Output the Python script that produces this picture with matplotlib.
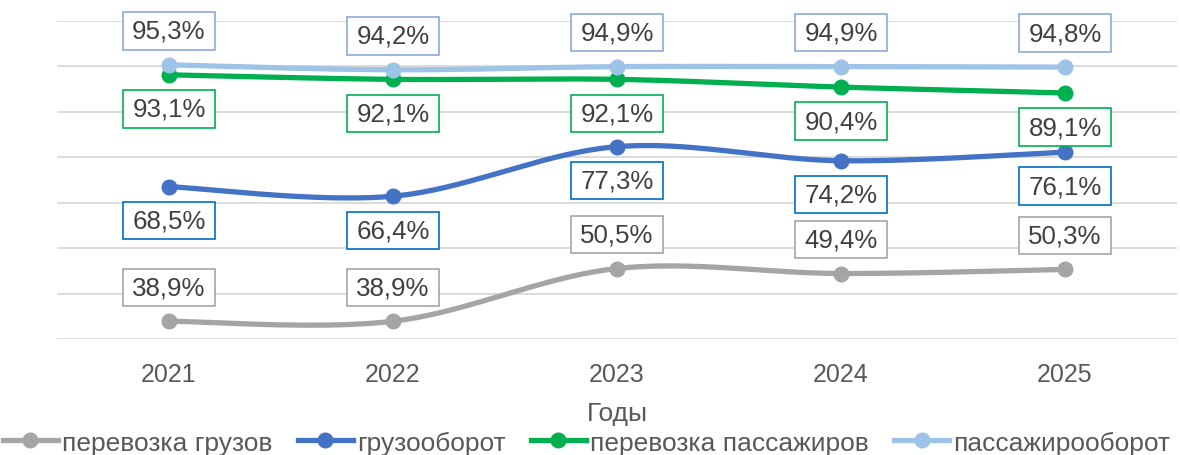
import numpy as np
import matplotlib.pyplot as plt
from matplotlib.path import Path

plt.rcParams['font.family'] = ['Liberation Sans', 'DejaVu Sans']

years = ['2021', '2022', '2023', '2024', '2025']
cargo = [38.9, 38.9, 50.5, 49.4, 50.3]            # перевозка грузов
cargo_turn = [68.5, 66.4, 77.3, 74.2, 76.1]       # грузооборот
passengers = [93.1, 92.1, 92.1, 90.4, 89.1]       # перевозка пассажиров
pass_turn = [95.3, 94.2, 94.9, 94.9, 94.8]        # пассажирооборот


def smooth(xs, ys, n=40):
    # excel-like smoothed line: bezier through the points
    p = np.column_stack([xs, ys]).astype(float)
    p = np.vstack([p[0], p, p[-1]])
    out = []
    for i in range(1, len(p) - 2):
        p0, p1, p2, p3 = p[i - 1], p[i], p[i + 1], p[i + 2]
        c1 = p1 + (p2 - p0) / 6
        c2 = p2 - (p3 - p1) / 6
        t = np.linspace(0, 1, n)[:, None]
        seg = ((1 - t) ** 3) * p1 + 3 * ((1 - t) ** 2) * t * c1 + 3 * (1 - t) * t ** 2 * c2 + t ** 3 * p2
        out.append(seg if i == 1 else seg[1:])
    s = np.vstack(out)
    return s[:, 0], s[:, 1]


def label_box(x0, y0, width, height, mutation_size):
    # rectangle with separate horizontal / vertical padding
    px = 0.36 * mutation_size
    py = 0.26 * mutation_size
    x0, y0 = x0 - px, y0 - py
    x1, y1 = x0 + width + 2 * px, y0 + height + 2 * py
    return Path([(x0, y0), (x1, y0), (x1, y1), (x0, y1), (x0, y0)],
                closed=True)


series = [
    ('перевозка грузов', cargo, '#A5A5A5', '#A5A5A5', 1),
    ('грузооборот', cargo_turn, '#4472C4', '#0070C0', -1),
    ('перевозка пассажиров', passengers, '#00B050', '#00B050', -1),
    ('пассажирооборот', pass_turn, '#9DC3E6', '#8EA9DB', 1),
]

fig = plt.figure(figsize=(11.8, 4.56), dpi=100)
ax = fig.add_axes([0.0483, 0.2544, 0.9492, 0.698])
x = np.arange(len(years))

handles = []
for name, vals, col, boxcol, side in series:
    sx, sy = smooth(x, vals)
    ax.plot(sx, sy, color=col, lw=3.8, solid_capstyle='round')
    ax.plot(x, vals, 'o', color=col, ms=10.5)
    h, = ax.plot([], [], '-o', color=col, lw=3.8, ms=10.5, label=name)
    handles.append(h)
    for xi, v in zip(x, vals):
        ax.annotate(('%.1f' % v).replace('.', ',') + '%', (xi, v),
                    xytext=(0, 24.5 * side), textcoords='offset points',
                    ha='center', va='center', fontsize=18.6, color='#404040',
                    bbox=dict(boxstyle=label_box, fc='white', ec=boxcol, lw=1.2),
                    zorder=5)

ax.set_xlim(-0.5, 4.5)
ax.set_ylim(35, 105)
ax.set_yticks(np.arange(35, 106, 10))
ax.set_yticklabels([])
ax.yaxis.grid(True, color='#D9D9D9', lw=1.3)
ax.set_axisbelow(True)
ax.tick_params(axis='y', length=0)
ax.tick_params(axis='x', length=0, pad=16.5, labelsize=18, labelcolor='#595959')
ax.set_xticks(x)
ax.set_xticklabels(years)
for s in ax.spines.values():
    s.set_visible(False)
ax.set_xlabel('Годы', fontsize=19, color='#595959', labelpad=11)

fig.legend(handles=handles, loc='center', bbox_to_anchor=(0.497, 0.027), ncol=4,
           frameon=False, fontsize=19, labelcolor='#595959', handlelength=2.1,
           handletextpad=0.15, columnspacing=0.95, borderpad=0)

fig.savefig('out.png', dpi=100)
